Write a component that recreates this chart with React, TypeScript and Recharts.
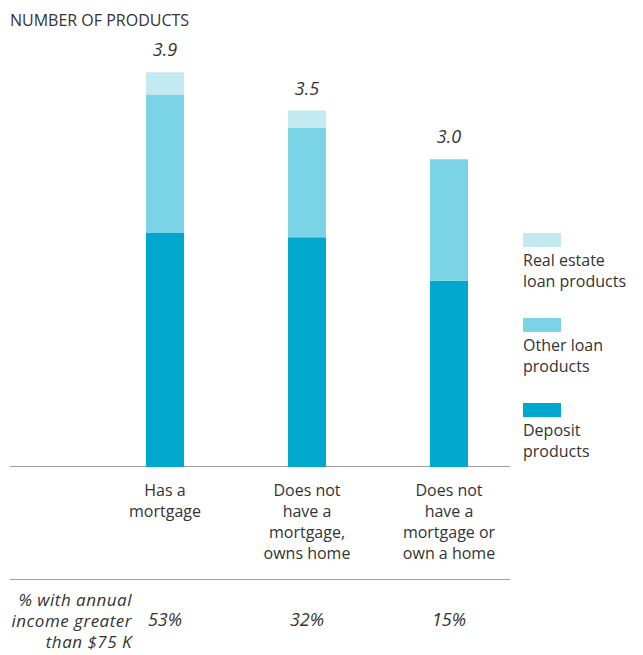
import { ComposedChart, Bar, Line, XAxis, YAxis, LabelList } from 'recharts';

const categories = [
  'Has a\nmortgage',
  'Does not\nhave a\nmortgage,\nowns home',
  'Does not\nhave a\nmortgage or\nown a home',
];
const depositProducts = [2.31, 2.27, 1.84];
const otherLoanProducts = [1.37, 1.08, 1.2];
const realEstateLoanProducts = [0.22, 0.17, 0];
const totalLabels = ['3.9', '3.5', '3.0'];
const incomeShare = ['53%', '32%', '15%'];
const incomeRowTitle = ['% with annual', 'income greater', 'than $75 K'];

const FONT = '"Open Sans", Lato, sans-serif';
const TEXT = '#333333';

const series = [
  { key: 'deposit', name: 'Deposit\nproducts', color: '#00a8ce' },
  { key: 'other', name: 'Other loan\nproducts', color: '#7ad4e6' },
  { key: 'realEstate', name: 'Real estate\nloan products', color: '#c3e9f1' },
];

const data = categories.map((category, i) => ({
  category,
  income: incomeShare[i],
  deposit: depositProducts[i],
  other: otherLoanProducts[i],
  realEstate: realEstateLoanProducts[i],
  stackTop: depositProducts[i] + otherLoanProducts[i] + realEstateLoanProducts[i],
  total: totalLabels[i],
}));

function CategoryTick({ x, y, payload }: any) {
  const lines = String(payload.value).split('\n');
  return (
    <text x={x} y={y} textAnchor="middle" fill={TEXT} fontSize={16} fontFamily={FONT}>
      {lines.map((line, i) => (
        <tspan key={i} x={x} dy={i === 0 ? 29 : 21}>
          {line}
        </tspan>
      ))}
    </text>
  );
}

function IncomeTick({ x, y, payload }: any) {
  return (
    <text
      x={x}
      y={y + 46}
      textAnchor="middle"
      fill={TEXT}
      fontSize={18}
      fontStyle="italic"
      fontFamily={FONT}
    >
      {payload.value}
    </text>
  );
}

export default function App() {
  return (
    <div
      style={{
        position: 'absolute',
        left: 0,
        top: 0,
        width: 643,
        height: 655,
        background: '#fff',
        fontFamily: FONT,
        color: TEXT,
      }}
    >
      <div style={{ position: 'absolute', left: 10, top: 9, fontSize: 16, lineHeight: '22px' }}>
        NUMBER OF PRODUCTS
      </div>

      {/* rules */}
      <div style={{ position: 'absolute', left: 10, top: 466, width: 500, height: 1, background: '#9e9e9e' }} />
      <div style={{ position: 'absolute', left: 10, top: 579, width: 500, height: 1, background: '#9e9e9e' }} />

      {/* income row title */}
      <div
        style={{
          position: 'absolute',
          right: 643 - 132,
          top: 589,
          textAlign: 'right',
          fontStyle: 'italic',
          fontSize: 17,
          letterSpacing: 0.5,
          lineHeight: '21px',
          whiteSpace: 'nowrap',
        }}
      >
        {incomeRowTitle.map((line) => (
          <div key={line}>{line}</div>
        ))}
      </div>

      {/* legend */}
      <div style={{ position: 'absolute', left: 523, top: 233 }}>
        {[...series].reverse().map((s) => (
          <div key={s.key} style={{ marginBottom: 26 }}>
            <div style={{ width: 38, height: 14, background: s.color }} />
            <div style={{ marginTop: 3, whiteSpace: 'pre', fontSize: 16, lineHeight: '21px' }}>{s.name}</div>
          </div>
        ))}
      </div>

      <ComposedChart
        width={643}
        height={655}
        data={data}
        margin={{ top: 62, right: 123, bottom: 0, left: 94 }}
        style={{ position: 'absolute', left: 0, top: 0 }}
      >
        <YAxis hide domain={[0, 4]} />
        <XAxis
          dataKey="category"
          height={113}
          axisLine={false}
          tickLine={false}
          tickSize={0}
          tickMargin={0}
          interval={0}
          tick={<CategoryTick />}
        />
        <XAxis
          xAxisId="income"
          dataKey="income"
          height={75}
          axisLine={false}
          tickLine={false}
          tickSize={0}
          tickMargin={0}
          interval={0}
          tick={<IncomeTick />}
        />
        {series.map((s) => (
          <Bar
            key={s.key}
            dataKey={s.key}
            name={s.name}
            stackId="a"
            fill={s.color}
            barSize={38}
            isAnimationActive={false}
          />
        ))}
        <Line
          dataKey="stackTop"
          stroke="none"
          dot={false}
          activeDot={false}
          legendType="none"
          isAnimationActive={false}
        >
          <LabelList
            dataKey="total"
            position="top"
            offset={16}
            fill={TEXT}
            fontSize={18}
            fontStyle="italic"
            fontFamily={FONT}
          />
        </Line>
      </ComposedChart>
    </div>
  );
}
